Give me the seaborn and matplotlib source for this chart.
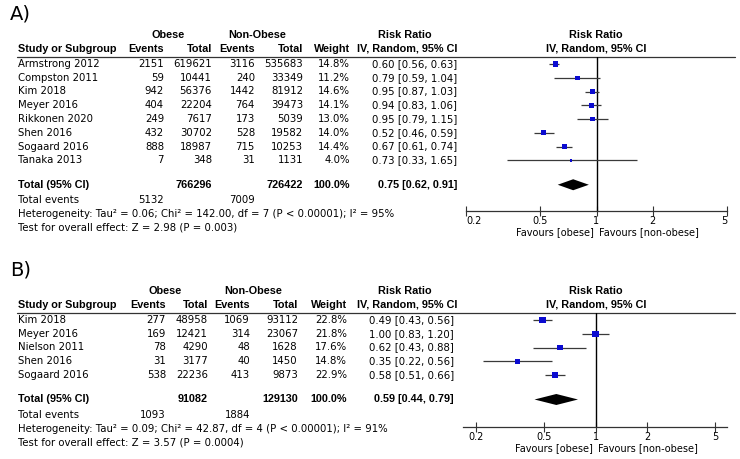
import matplotlib.pyplot as plt
import seaborn as sns
import pandas as pd

# ---- panel A data: obese vs non-obese ----
a_studies = ["Armstrong 2012", "Compston 2011", "Kim 2018", "Meyer 2016",
             "Rikkonen 2020", "Shen 2016", "Sogaard 2016", "Tanaka 2013"]
a_ob_events = [2151, 59, 942, 404, 249, 432, 888, 7]
a_ob_total = [619621, 10441, 56376, 22204, 7617, 30702, 18987, 348]
a_non_events = [3116, 240, 1442, 764, 173, 528, 715, 31]
a_non_total = [535683, 33349, 81912, 39473, 5039, 19582, 10253, 1131]
a_weight = [14.8, 11.2, 14.6, 14.1, 13.0, 14.0, 14.4, 4.0]
a_rr = [0.60, 0.79, 0.95, 0.94, 0.95, 0.52, 0.67, 0.73]
a_lo = [0.56, 0.59, 0.87, 0.83, 0.79, 0.46, 0.61, 0.33]
a_hi = [0.63, 1.04, 1.03, 1.06, 1.15, 0.59, 0.74, 1.65]
a_total = [766296, 726422]
a_total_events = [5132, 7009]
a_pooled = [0.75, 0.62, 0.91]
a_het = "Heterogeneity: Tau² = 0.06; Chi² = 142.00, df = 7 (P < 0.00001); I² = 95%"
a_test = "Test for overall effect: Z = 2.98 (P = 0.003)"

# ---- panel B data ----
b_studies = ["Kim 2018", "Meyer 2016", "Nielson 2011", "Shen 2016", "Sogaard 2016"]
b_ob_events = [277, 169, 78, 31, 538]
b_ob_total = [48958, 12421, 4290, 3177, 22236]
b_non_events = [1069, 314, 48, 40, 413]
b_non_total = [93112, 23067, 1628, 1450, 9873]
b_weight = [22.8, 21.8, 17.6, 14.8, 22.9]
b_rr = [0.49, 1.00, 0.62, 0.35, 0.58]
b_lo = [0.43, 0.83, 0.43, 0.22, 0.51]
b_hi = [0.56, 1.20, 0.88, 0.56, 0.66]
b_total = [91082, 129130]
b_total_events = [1093, 1884]
b_pooled = [0.59, 0.44, 0.79]
b_het = "Heterogeneity: Tau² = 0.09; Chi² = 42.87, df = 4 (P < 0.00001); I² = 91%"
b_test = "Test for overall effect: Z = 3.57 (P = 0.0004)"

ticks = [0.2, 0.5, 1, 2, 5]

sns.set_theme(style="white")
plt.rcParams["font.family"] = ["DejaVu Sans"]
plt.rcParams["text.color"] = "black"
plt.rcParams["xtick.color"] = "black"

W, H = 740, 459
fig = plt.figure(figsize=(W / 100, H / 100), dpi=100)
tx = fig.add_axes([0, 0, 1, 1])
tx.set_xlim(0, W)
tx.set_ylim(H, 0)
tx.axis("off")

FS = 7.3
BOLD = dict(fontsize=7.8, va="center", fontweight="bold",
            family=["Liberation Sans", "DejaVu Sans"])
NORM = dict(fontsize=FS, va="center")
SQ = "#0b0bd0"


def panel(label, top, studies, oe, ot, ne, nt, wt, rr, lo, hi, tot, tev, pooled,
          het, test, cols, rr_right, ax_box, xlim, edge_labels):
    # cols: right edges of events/total/events/total/weight, then header centres
    ev1, to1, ev2, to2, wcol, ob_c, non_c = cols
    y_h1 = top
    y_h2 = top + 13.5
    y_line = top + 21.5
    y0 = y_line + 7.5
    step = 13.75
    rows = [y0 + step * i for i in range(len(studies))]
    y_tot = rows[-1] + 24.5
    y_ev = y_tot + 15
    y_het = y_ev + 14
    y_test = y_het + 14

    tx.text(10, top - 21, label, fontsize=14, va="center", ha="left")
    tx.text(ob_c, y_h1, "Obese", ha="center", **BOLD)
    tx.text(non_c, y_h1, "Non-Obese", ha="center", **BOLD)
    tx.text(405, y_h1, "Risk Ratio", ha="center", **BOLD)
    tx.text(596, y_h1, "Risk Ratio", ha="center", **BOLD)
    tx.text(18, y_h2, "Study or Subgroup", ha="left", **BOLD)
    for x, s in zip([ev1, to1, ev2, to2, wcol], ["Events", "Total", "Events", "Total", "Weight"]):
        tx.text(x, y_h2, s, ha="right", **BOLD)
    tx.text(407, y_h2, "IV, Random, 95% CI", ha="center", **BOLD)
    tx.text(596, y_h2, "IV, Random, 95% CI", ha="center", **BOLD)
    tx.plot([17, 735], [y_line, y_line], color="#333333", lw=0.9)

    for i, y in enumerate(rows):
        tx.text(18, y, studies[i], ha="left", **NORM)
        tx.text(ev1, y, str(oe[i]), ha="right", **NORM)
        tx.text(to1, y, str(ot[i]), ha="right", **NORM)
        tx.text(ev2, y, str(ne[i]), ha="right", **NORM)
        tx.text(to2, y, str(nt[i]), ha="right", **NORM)
        tx.text(wcol, y, f"{wt[i]:.1f}%", ha="right", **NORM)
        tx.text(rr_right, y, f"{rr[i]:.2f} [{lo[i]:.2f}, {hi[i]:.2f}]", ha="right", **NORM)

    tx.text(18, y_tot, "Total (95% CI)", ha="left", **BOLD)
    tx.text(to1, y_tot, str(tot[0]), ha="right", **BOLD)
    tx.text(to2, y_tot, str(tot[1]), ha="right", **BOLD)
    tx.text(wcol, y_tot, "100.0%", ha="right", **BOLD)
    tx.text(rr_right, y_tot, f"{pooled[0]:.2f} [{pooled[1]:.2f}, {pooled[2]:.2f}]", ha="right", **BOLD)
    tx.text(18, y_ev, "Total events", ha="left", **NORM)
    tx.text(ev1, y_ev, str(tev[0]), ha="right", **NORM)
    tx.text(ev2, y_ev, str(tev[1]), ha="right", **NORM)
    tx.text(18, y_het, het, ha="left", **NORM)
    tx.text(18, y_test, test, ha="left", **NORM)

    # forest axes: x is the log risk ratio, y is in pixel rows
    x0, x1, yb = ax_box
    ax = fig.add_axes([x0 / W, 1 - yb / H, (x1 - x0) / W, (yb - y_line) / H])
    ax.set_facecolor("none")
    ax.set_xscale("log")
    ax.set_xlim(*xlim)
    ax.set_ylim(yb, y_line)
    ax.axvline(1, color="black", lw=1)
    ax.hlines(rows, lo, hi, color="#3a3a3a", lw=0.9)
    df = pd.DataFrame({"rr": rr, "y": rows, "w": wt})
    sns.scatterplot(data=df, x="rr", y="y", size="w", sizes=(0, 0.9 * 25),
                    size_norm=(0, 25), marker="s", color=SQ, linewidth=0,
                    legend=False, ax=ax, zorder=3)
    ax.fill([pooled[1], pooled[0], pooled[2], pooled[0]],
            [y_tot, y_tot - 5.5, y_tot, y_tot + 5.5], color="black", lw=0)
    for s in ["top", "left", "right"]:
        ax.spines[s].set_visible(False)
    ax.spines["bottom"].set_color("#333333")
    ax.spines["bottom"].set_linewidth(0.9)
    ax.set_xticks(ticks)
    ax.set_xticklabels([f"{t:g}" for t in ticks])
    ax.minorticks_off()
    ax.set_yticks([])
    ax.tick_params(axis="x", direction="inout", length=7, width=0.8, pad=0,
                   labelsize=7, color="#333333", bottom=True)
    if edge_labels:
        labs = ax.get_xticklabels()
        labs[0].set_ha("left")
        labs[-1].set_ha("right")
    ax.set_xlabel("")
    ax.set_ylabel("")
    ax.annotate("Favours [obese]", xy=(1, 0), xycoords=("data", "axes fraction"),
                xytext=(-2, -15), textcoords="offset points",
                ha="right", va="center", fontsize=7)
    ax.annotate("Favours [non-obese]", xy=(1, 0), xycoords=("data", "axes fraction"),
                xytext=(2, -15), textcoords="offset points",
                ha="left", va="center", fontsize=7)
    return ax


panel("A)", 35, a_studies, a_ob_events, a_ob_total, a_non_events, a_non_total,
      a_weight, a_rr, a_lo, a_hi, a_total, a_total_events, a_pooled, a_het, a_test,
      (164, 212, 255, 303, 350, 168, 257), 457, (466, 727, 211), (0.2, 5.0), True)
panel("B)", 291, b_studies, b_ob_events, b_ob_total, b_non_events, b_non_total,
      b_weight, b_rr, b_lo, b_hi, b_total, b_total_events, b_pooled, b_het, b_test,
      (166, 208, 250, 298, 347, 165, 253), 454, (463, 727, 427), (0.168, 5.87), False)

fig.savefig("out.png", dpi=100)
